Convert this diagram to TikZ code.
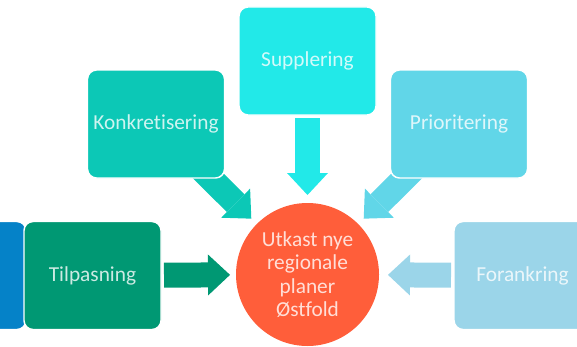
\documentclass[tikz,border=0pt]{standalone}
\usepackage{fontspec}
\setmainfont{Carlito}[Ligatures=NoCommon]
\usetikzlibrary{arrows.meta,backgrounds}

\definecolor{blaacol}{RGB}{5,130,200}
\definecolor{tilpcol}{RGB}{0,152,115}
\definecolor{konkcol}{RGB}{12,200,182}
\definecolor{suppcol}{RGB}{34,233,232}
\definecolor{priocol}{RGB}{97,214,232}
\definecolor{foracol}{RGB}{155,213,233}
\definecolor{utkcol}{RGB}{255,94,58}

\begin{document}
\begin{tikzpicture}[x=0.75pt,y=0.75pt,yscale=-1,xscale=1,
  boks/.style={rounded corners=6.75pt, draw=white, line width=1.1pt, minimum width=102.75pt, minimum height=81pt, inner sep=0pt, outer sep=0pt, text=white, text opacity=0.8, font=\fontsize{16}{17.25}\selectfont},
  pil/.style={line width=18.75pt, -{Triangle[width=30.75pt,length=16.5pt,line width'=0pt]}}]
%set diagram size 577 x 346
\useasboundingbox (0,0) rectangle (577,346);
\clip (0,0) rectangle (577,346);

%Shape: Rectangle (cut at left edge)
\node [boks, fill=blaacol] (blaa) at (-42.5,275.5) {};

%Shape: Circle
\node [circle, fill=utkcol, minimum size=107.25pt, inner sep=0pt, outer sep=0pt, text=white, text opacity=0.8, align=center, font=\fontsize{16}{17.6}\selectfont] (utk) at (307.5,274.5) {Utkast nye\\regionale\\planer\\Østfold};

%Shape: Rounded Rect
\node [boks, fill=tilpcol] (tilp) at (92.5,275.5) {Tilpasning};
\node [boks, fill=konkcol] (konk) at (156,124) {Konkretisering};
\node [boks, fill=suppcol] (supp) at (307.5,61) {Supplering};
\node [boks, fill=priocol] (prio) at (459,124) {Prioritering};
\node [boks, fill=foracol] (fora) at (522.5,275.5) {Forankring};

%Block arrows
\begin{pgfonlayer}{background}
\draw [pil, tilpcol, shorten <=2.25pt, shorten >=4.5pt] (tilp) -- (utk);
\draw [pil, konkcol, shorten <=-11.25pt, shorten >=5.8pt] (konk) -- (utk);
\draw [pil, suppcol, shorten <=2.25pt, shorten >=6pt] (supp) -- (utk);
\draw [pil, priocol, shorten <=-11.25pt, shorten >=5.8pt] (prio) -- (utk);
\draw [pil, foracol, shorten <=2.25pt, shorten >=6.75pt] (fora) -- (utk);
\end{pgfonlayer}
\end{tikzpicture}
\end{document}
